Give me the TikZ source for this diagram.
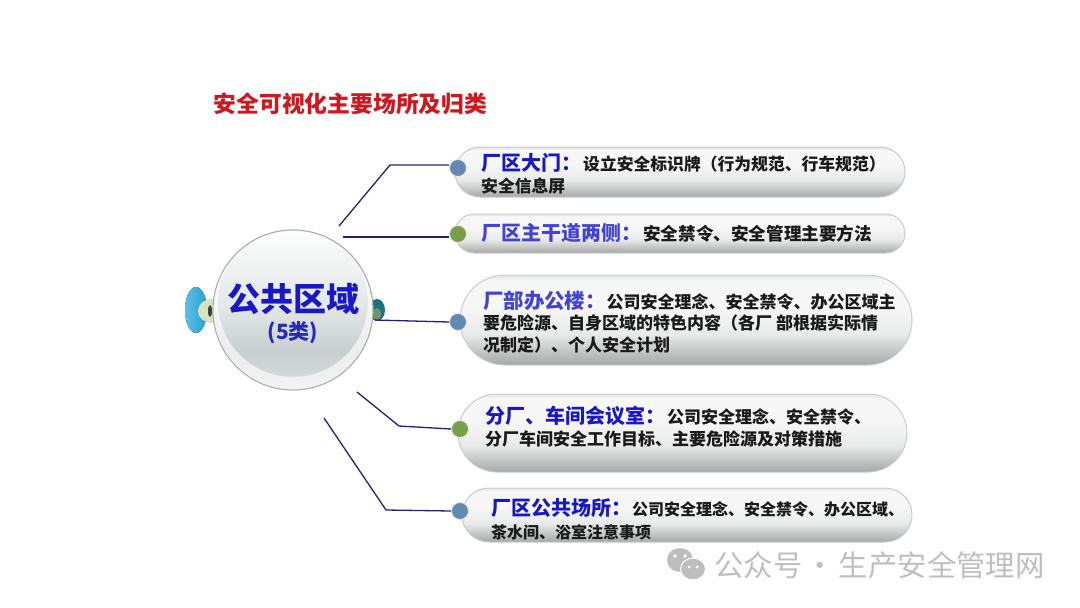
\documentclass[tikz,border=0pt]{standalone}
\usepackage{fontspec}
\usepackage{xcolor}
\setmainfont{Noto Sans CJK SC}
\usetikzlibrary{shapes.misc, positioning}
\definecolor{titlered}{RGB}{208,22,30}
\definecolor{headblue}{RGB}{24,24,196}
\definecolor{softblue}{RGB}{66,66,214}
\definecolor{linkblue}{RGB}{32,32,128}
\definecolor{bodyblack}{RGB}{26,26,26}
\definecolor{pillrim}{RGB}{200,204,204}
\definecolor{pilltop}{RGB}{226,228,228}
\definecolor{pilllight}{RGB}{247,247,247}
\definecolor{pillmid}{RGB}{232,233,233}
\definecolor{pilldark}{RGB}{166,168,168}
\definecolor{balltop}{RGB}{252,253,253}
\definecolor{ballmid}{RGB}{228,232,232}
\definecolor{balllow}{RGB}{200,206,206}
\definecolor{ballbase}{RGB}{218,223,223}
\definecolor{slateball}{RGB}{98,138,176}
\definecolor{greenball}{RGB}{120,160,70}
\definecolor{markgray}{RGB}{190,190,190}
\definecolor{blobcyan}{RGB}{96,190,232}
\definecolor{blobdeep}{RGB}{38,160,212}
\definecolor{blobpale}{RGB}{214,228,190}
\definecolor{blobteal}{RGB}{28,112,128}
\definecolor{blobolive}{RGB}{112,150,104}
\pgfdeclareverticalshading{pillshade}{100bp}{color(0bp)=(pilldark); color(25bp)=(pilldark); color(42bp)=(pillmid); color(58bp)=(pilllight); color(72bp)=(pilllight); color(75bp)=(pilltop); color(100bp)=(pilltop)}
\pgfdeclareverticalshading{ballshade}{100bp}{color(0bp)=(ballbase); color(25bp)=(ballbase); color(37bp)=(balllow); color(52bp)=(ballmid); color(75bp)=(balltop); color(100bp)=(balltop)}
\newcommand{\headlabel}[3]{{\color{#1}\fontsize{#2}{#2}\selectfont #3}}

\begin{document}
\begin{tikzpicture}[
        x=1pt, y=-1pt,
        pill/.style={rounded rectangle, draw=pillrim, line width=1pt, shading=pillshade, inner sep=0pt},
        pilltext/.style={anchor=west, align=left, inner sep=0pt, text=bodyblack},
        bullet/.style={circle, draw=white!80!gray, line width=.8pt, minimum size=17pt, inner sep=0pt},
        link/.style={draw=linkblue, line width=1.3pt}
    ]
        \useasboundingbox (0,0) rectangle (1080,608);

        % Title
        \node[font=\bfseries\fontsize{22.8}{26}\selectfont, text=titlered] (title) at (350.5,104) {安全可视化主要场所及归类};

        % Side blobs
        \fill[left color=blobcyan, right color=blobdeep] (196,310) ellipse (11 and 23);
        \fill[blobpale] (212,311) ellipse (14 and 12);
        \fill[black!75] (210,311) ellipse (2 and 6);
        \fill[blobteal] (377,310) ellipse (8 and 11);
        \fill[blobolive] (377,314) ellipse (4 and 6);

        % Pills
        \node[pill, minimum width=450pt, minimum height=50pt] (gate) at (680,172) {};
        \node[pill, minimum width=450pt, minimum height=39pt] (road) at (680,233.5) {};
        \node[pill, minimum width=452pt, minimum height=90pt] (office) at (686,320) {};
        \node[pill, minimum width=449pt, minimum height=78pt] (room) at (682.5,433) {};
        \node[pill, minimum width=450pt, minimum height=54pt] (yard) at (687,515) {};

        % Bullets
        \node[bullet, fill=slateball] (gateball) at (458,168) {};
        \node[bullet, fill=greenball] (roadball) at (458,234) {};
        \node[bullet, fill=slateball] (officeball) at (458,322) {};
        \node[bullet, fill=greenball] (roomball) at (460,429) {};
        \node[bullet, fill=slateball] (yardball) at (460,511) {};

        % Links
        \coordinate (gatefrom) at (339,226);
        \coordinate (gatebend) at (390,165);
        \coordinate (roadfrom) at (343,237);
        \coordinate (officefrom) at (375,320);
        \coordinate (roomfrom) at (357,392);
        \coordinate (roombend) at (399,426);
        \coordinate (yardfrom) at (324,418);
        \coordinate (yardbend) at (386,510);
        \draw[link] (gatefrom) -- (gatebend) -- (gateball.west |- gatebend);
        \draw[link] (roadfrom) -- (roadball.west |- roadfrom);
        \draw[link] (officefrom) -- (officeball.west);
        \draw[link] (roomfrom) -- (roombend) -- (roomball.west);
        \draw[link] (yardfrom) -- (yardbend) -- (yardball.west);

        % Pill text
        \node[pilltext, font=\bfseries\fontsize{16.8}{22}\selectfont] (gatetext) at (481,174) {\headlabel{headblue}{20}{厂区大门：}\hspace{2pt}设立安全标识牌（行为规范、行车规范）\\安全信息屏};
        \node[pilltext, font=\bfseries\fontsize{17.6}{22}\selectfont] (roadtext) at (481,233) {\headlabel{softblue}{20}{厂区主干道两侧：}\hspace{2pt}安全禁令、安全管理主要方法};
        \node[pilltext, font=\bfseries\fontsize{17}{21.5}\selectfont] (officetext) at (483,322) {\headlabel{softblue}{20.4}{厂部办公楼：}\hspace{1pt}公司安全理念、安全禁令、办公区域主\\要危险源、自身区域的特色内容（各厂 部根据实际情\\况制定）、个人安全计划};
        \node[pilltext, font=\bfseries\fontsize{17}{22}\selectfont] (roomtext) at (485,427) {\headlabel{headblue}{20}{分厂、车间会议室：}\hspace{2pt}公司安全理念、安全禁令、\\分厂车间安全工作目标、主要危险源及对策措施};
        \node[pilltext, font=\bfseries\fontsize{16}{23}\selectfont] (yardtext) at (491,519) {\headlabel{headblue}{20}{厂区公共场所：}\hspace{1pt}公司安全理念、安全禁令、办公区域、\\茶水间、浴室注意事项};

        % Center ball
        \node[circle, draw=gray!65, line width=1.2pt, minimum size=160pt, inner sep=0pt, shading=ballshade] (ball) at (293,310) {};
        \begin{scope}
            \clip (293,310) circle (79.4);
            \fill[white, opacity=.65, even odd rule] (293,310) circle (79.4) (293,302) circle (75);
        \end{scope}
        \node[font=\bfseries\fontsize{33}{36}\selectfont, text=headblue] (balltitle) at (293,299) {公共区域};
        \node[font=\bfseries\fontsize{21}{24}\selectfont, text=headblue!85!gray] (ballcount) at (293,333) {(5类)};

        % Watermark
        \fill[markgray] (680,560) ellipse (13 and 12);
        \draw[white, line width=1pt, fill=markgray] (693,569) ellipse (12.5 and 11);
        \fill[white] (675,556) circle (1.8) (685,556) circle (1.8) (689,567) circle (1.5) (697,567) circle (1.5);
        \node[anchor=west, inner sep=0pt, text=markgray, font=\fontsize{29.4}{31}\selectfont] (mark) at (714,565) {公众号\hspace{-3pt} · \hspace{-3pt}生产安全管理网};
\end{tikzpicture}
\end{document}
